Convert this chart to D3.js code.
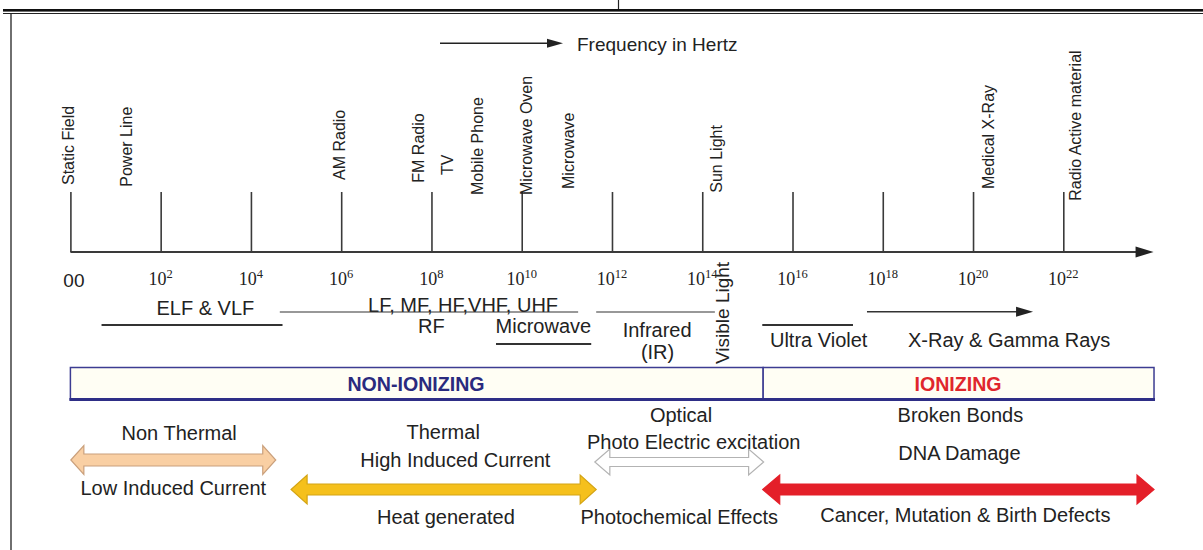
<!DOCTYPE html>
<html><head><meta charset="utf-8">
<script src="https://cdn.jsdelivr.net/npm/d3@7"></script>
<style>
html,body{margin:0;padding:0;background:#fff;}
svg{display:block;font-family:"Liberation Sans",Arial,sans-serif;}
</style></head><body>
<svg id="c" width="1203" height="550"></svg>
<script>
// ---------- data ----------
const tickExps  = [0, 2, 4, 6, 8, 10, 12, 14, 16, 18, 20, 22];
const tickBase  = ["00", "10", "10", "10", "10", "10", "10", "10", "10", "10", "10", "10"];
const tickSup   = ["", "2", "4", "6", "8", "10", "12", "14", "16", "18", "20", "22"];

const sources   = ["Static Field", "Power Line", "AM Radio", "FM Radio", "TV", "Mobile Phone",
                   "Microwave Oven", "Microwave", "Sun Light", "Medical X-Ray", "Radio Active material"];
const sourceExp = [-0.04, 1.24, 5.97, 7.72, 8.36, 9.02, 10.10, 11.04, 14.32, 20.34, 22.27];

const bandNames = ["ELF & VLF", "LF, MF, HF,VHF, UHF", "RF", "Microwave", "Infrared", "(IR)", "Ultra Violet", "X-Ray & Gamma Rays"];
const bandExp   = [2.99, 8.70, 8.00, 10.48, 13.00, 13.01, 16.58, 20.80];
const bandLineFrom = [0.69, 4.64, 11.65, 9.43, 15.33];
const bandLineTo   = [4.70, 11.25, 14.28, 11.54, 17.34];
const visibleName = "Visible Light";
const visibleExp  = 14.45;
const xrayArrow   = [17.65, 21.33];

const regionNames = ["NON-IONIZING", "IONIZING"];
const regionFrom  = [0, 15.35];
const regionTo    = [15.35, 24.01];

const effectFrom  = [0.01, 4.89, 11.62, 15.34];
const effectTo    = [4.55, 11.65, 15.36, 24.01];

const effectTexts = ["Non Thermal", "Low Induced Current", "Thermal", "High Induced Current", "Heat generated",
                     "Optical", "Photo Electric excitation", "Photochemical Effects",
                     "Broken Bonds", "DNA Damage", "Cancer, Mutation & Birth Defects"];
const effectTextExp = [2.41, 2.28, 8.26, 8.53, 8.32, 13.53, 13.81, 13.49, 19.72, 19.70, 19.83];

// ---------- layout ----------
const svg = d3.select("#c");
const x = d3.scaleLinear().domain([0, 22]).range([70.4, 1063.3]);
const axisY = 252;
const ink = "#222";

// frame
svg.append("rect").attr("x", 3).attr("y", 9).attr("width", 1200).attr("height", 2.6).attr("fill", "#111");
svg.append("line").attr("x1", 3).attr("x2", 1203).attr("y1", 13.5).attr("y2", 13.5).attr("stroke", "#222").attr("stroke-width", 1);
svg.append("line").attr("x1", 618.5).attr("x2", 618.5).attr("y1", 0).attr("y2", 9).attr("stroke", "#222").attr("stroke-width", 1.2);
svg.append("line").attr("x1", 11).attr("x2", 11).attr("y1", 13).attr("y2", 550).attr("stroke", "#222").attr("stroke-width", 1.3);

// frequency arrow
svg.append("line").attr("x1", 440).attr("x2", 550).attr("y1", 43.3).attr("y2", 43.3).attr("stroke", "#222").attr("stroke-width", 1.6);
svg.append("path").attr("d", "M547,38.8L563,43.3L547,47.8Z").attr("fill", "#222");
svg.append("text").attr("x", 577).attr("y", 50.7).attr("font-size", 19).attr("fill", ink).text("Frequency in Hertz");

// axis
const axis = d3.axisTop(x).tickValues(tickExps).tickSize(60).tickSizeOuter(0).tickFormat("");
const gA = svg.append("g").attr("transform", `translate(0,${axisY})`).call(axis);
gA.select(".domain").attr("d", `M${x(0)},0H${x(24) - 14}`).attr("stroke", "#3a3a3a").attr("stroke-width", 2);
gA.selectAll(".tick line").attr("stroke", "#3a3a3a").attr("stroke-width", 1.6);
svg.append("path").attr("d", `M${x(24) - 18},246.5L${x(24)},252L${x(24) - 18},257.5Z`).attr("fill", "#222");

// tick labels
const tl = svg.append("g").selectAll("text").data(tickExps).join("text")
  .attr("x", (d, i) => x(d) + (i === 0 ? 3.5 : 0))
  .attr("y", (d, i) => i === 0 ? 286.5 : 285)
  .attr("text-anchor", "middle")
  .attr("fill", ink)
  .attr("font-family", (d, i) => i === 0 ? "'Liberation Sans',Arial,sans-serif" : "'Liberation Serif','Times New Roman',serif")
  .attr("font-size", (d, i) => i === 0 ? 19 : 18);
tl.append("tspan").text((d, i) => tickBase[i]);
tl.append("tspan").attr("font-size", 12.5).attr("dy", -7).text((d, i) => tickSup[i]);

// source labels (rotated)
const sourceStartY = [185, 186.7, 180, 182.7, 175, 195, 195, 189, 192.7, 189, 200.7];
svg.append("g").selectAll("text").data(sources).join("text")
  .attr("transform", (d, i) => `translate(${x(sourceExp[i])},${sourceStartY[i]}) rotate(-90)`)
  .attr("dy", "0.35em").attr("font-size", 16).attr("fill", ink)
  .text(d => d);

// band labels
const bandY = [315, 312, 332.5, 332.5, 337, 358.5, 347, 346.5];
svg.append("g").selectAll("text").data(bandNames).join("text")
  .attr("x", (d, i) => x(bandExp[i])).attr("y", (d, i) => bandY[i])
  .attr("text-anchor", "middle").attr("font-size", 20).attr("fill", ink)
  .text(d => d);
const bandLineY = [325, 312, 312, 344, 325];
const bandLineW = [2, 1.2, 1.2, 2, 2];
svg.append("g").selectAll("line").data(bandLineFrom).join("line")
  .attr("x1", (d) => x(d)).attr("x2", (d, i) => x(bandLineTo[i]))
  .attr("y1", (d, i) => bandLineY[i]).attr("y2", (d, i) => bandLineY[i])
  .attr("stroke", "#333").attr("stroke-width", (d, i) => bandLineW[i]);
svg.append("text").attr("transform", `translate(${x(visibleExp)},364) rotate(-90)`)
  .attr("dy", "0.35em").attr("font-size", 19).attr("fill", ink).text(visibleName);
svg.append("line").attr("x1", x(xrayArrow[0])).attr("x2", x(xrayArrow[1]) - 12)
  .attr("y1", 311.7).attr("y2", 311.7).attr("stroke", "#333").attr("stroke-width", 1.5);
svg.append("path").attr("d", `M${x(xrayArrow[1]) - 17},306.7L${x(xrayArrow[1])},311.7L${x(xrayArrow[1]) - 17},316.7Z`).attr("fill", "#222");

// region boxes
const boxTop = 367.5, boxBot = 399.5;
svg.append("g").selectAll("rect").data(regionNames).join("rect")
  .attr("x", (d, i) => x(regionFrom[i])).attr("width", (d, i) => x(regionTo[i]) - x(regionFrom[i]))
  .attr("y", boxTop).attr("height", boxBot - boxTop)
  .attr("fill", "#fffef4").attr("stroke", "#3c3c92").attr("stroke-width", 1.5);
svg.append("line").attr("x1", x(regionFrom[0]) - 1).attr("x2", x(regionTo[1]) + 1)
  .attr("y1", boxBot).attr("y2", boxBot).attr("stroke", "#2e2e86").attr("stroke-width", 3);
const regionColor = ["#2a2a7e", "#e0262c"];
const regionCenter = [416, 958];
svg.append("g").selectAll("text").data(regionNames).join("text")
  .attr("x", (d, i) => regionCenter[i]).attr("y", 390.5)
  .attr("text-anchor", "middle").attr("font-size", 19.6).attr("font-weight", "bold")
  .attr("fill", (d, i) => regionColor[i]).text(d => d);

// effect arrows
function dbl(x0, x1, cy, H, h, L) {
  return [[x0, cy], [x0 + L, cy - H], [x0 + L, cy - h], [x1 - L, cy - h], [x1 - L, cy - H], [x1, cy],
          [x1 - L, cy + H], [x1 - L, cy + h], [x0 + L, cy + h], [x0 + L, cy + H]];
}
const arrowCY   = [460, 489.5, 462, 489.5];
const arrowFill = ["#f9cfa3", "#f5c01c", "#ffffff", "#e41f29"];
const arrowStroke = ["#caa07c", "#d4a414", "#b3b3b3", "#e41f29"];
const arrowDims = [[14.5, 6, 13], [14.5, 5.5, 16], [13, 4.5, 15], [14.5, 5.5, 17]];
const line = d3.line();
svg.append("g").selectAll("path").data(effectFrom).join("path")
  .attr("d", (d, i) => line(dbl(x(d), x(effectTo[i]), arrowCY[i], ...arrowDims[i])) + "Z")
  .attr("fill", (d, i) => arrowFill[i]).attr("stroke", (d, i) => arrowStroke[i]).attr("stroke-width", 1.2);

// effect texts
const effectY = [440, 495, 438.5, 466.5, 523.5, 421.5, 448.5, 523.5, 421.5, 460, 522];
svg.append("g").selectAll("text").data(effectTexts).join("text")
  .attr("x", (d, i) => x(effectTextExp[i])).attr("y", (d, i) => effectY[i])
  .attr("text-anchor", "middle").attr("font-size", 20).attr("fill", ink)
  .text(d => d);
</script>
</body></html>
